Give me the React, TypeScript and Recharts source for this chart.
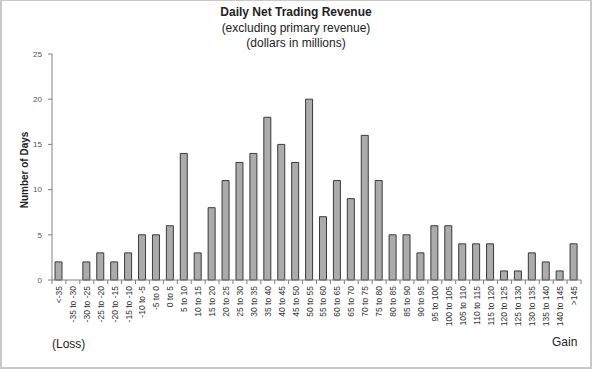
import React from 'react';
import { BarChart, Bar, XAxis, YAxis } from 'recharts';

// Tramos de ingreso diario (millones de dólares)
const buckets = [
  '<-35', '-35 to -30', '-30 to -25', '-25 to -20', '-20 to -15', '-15 to -10', '-10 to -5', '-5 to 0',
  '0 to 5', '5 to 10', '10 to 15', '15 to 20', '20 to 25', '25 to 30', '30 to 35', '35 to 40',
  '40 to 45', '45 to 50', '50 to 55', '55 to 60', '60 to 65', '65 to 70', '70 to 75', '75 to 80',
  '80 to 85', '85 to 90', '90 to 95', '95 to 100', '100 to 105', '105 to 110', '110 to 115', '115 to 120',
  '120 to 125', '125 to 130', '130 to 135', '135 to 140', '140 to 145', '>145',
];

// Número de días por tramo
const days = [
  2, 0, 2, 3, 2, 3, 5, 5,
  6, 14, 3, 8, 11, 13, 14, 18,
  15, 13, 20, 7, 11, 9, 16, 11,
  5, 5, 3, 6, 6, 4, 4, 4,
  1, 1, 3, 2, 1, 4,
];

const yTicks = [0, 5, 10, 15, 20, 25];

const data = buckets.map((name, i) => ({ name, days: days[i] }));

const FONT = '"Liberation Sans", Arial, sans-serif';

// Etiqueta vertical con marca de división entre categorías (estilo Excel)
const BucketTick = (props: any) => {
  const { x, y, payload, index, width, visibleTicksCount } = props;
  const bw = width && visibleTicksCount ? width / visibleTicksCount : 13.9;
  return (
    <g transform={`translate(${x},${y})`}>
      <line x1={-bw / 2} y1={0} x2={-bw / 2} y2={4} stroke="#808080" />
      {index === buckets.length - 1 && <line x1={bw / 2} y1={0} x2={bw / 2} y2={4} stroke="#808080" />}
      <text transform="rotate(-90)" x={-6} y={3} textAnchor="end" fontSize={8.5} fill="#333" fontFamily={FONT}>
        {payload.value}
      </text>
    </g>
  );
};

export default function App() {
  return (
    <div style={{ position: 'absolute', left: 0, top: 0, width: 592, height: 369, background: '#fff', fontFamily: FONT }}>
      <div style={{ position: 'absolute', left: 0, top: 5, width: 592, textAlign: 'center', color: '#222', lineHeight: '15.5px' }}>
        <div style={{ fontSize: 12, fontWeight: 'bold' }}>Daily Net Trading Revenue</div>
        <div style={{ fontSize: 12 }}>(excluding primary revenue)</div>
        <div style={{ fontSize: 12 }}>(dollars in millions)</div>
      </div>
      <div style={{ position: 'absolute', left: 24, top: 170, transform: 'translate(-50%,-50%) rotate(-90deg)', fontSize: 10, fontWeight: 'bold', color: '#222', whiteSpace: 'nowrap' }}>
        Number of Days
      </div>
      <BarChart width={592} height={369} data={data} margin={{ top: 54, right: 11, left: 12, bottom: 0 }} barSize={7}>
        <YAxis
          domain={[0, 25]}
          ticks={yTicks}
          width={40}
          tickSize={4}
          tickMargin={6}
          axisLine={{ stroke: '#808080' }}
          tickLine={{ stroke: '#808080' }}
          tick={{ fontSize: 8, fill: '#555', fontFamily: FONT }}
        />
        <XAxis
          dataKey="name"
          height={89}
          interval={0}
          tickLine={false}
          tickSize={0}
          tickMargin={0}
          axisLine={{ stroke: '#808080' }}
          tick={<BucketTick />}
        />
        <Bar dataKey="days" fill="#ababab" stroke="#3a3a3a" strokeWidth={1} isAnimationActive={false} />
      </BarChart>
      <div style={{ position: 'absolute', left: 52, top: 337, fontSize: 12, color: '#222' }}>(Loss)</div>
      <div style={{ position: 'absolute', left: 552, top: 335, fontSize: 12, color: '#222' }}>Gain</div>
      <div style={{ position: 'absolute', left: 0, top: 0, width: 592, height: 369, boxSizing: 'border-box', border: '2px solid #c8c8c8', borderTopWidth: 1, pointerEvents: 'none' }} />
    </div>
  );
}
